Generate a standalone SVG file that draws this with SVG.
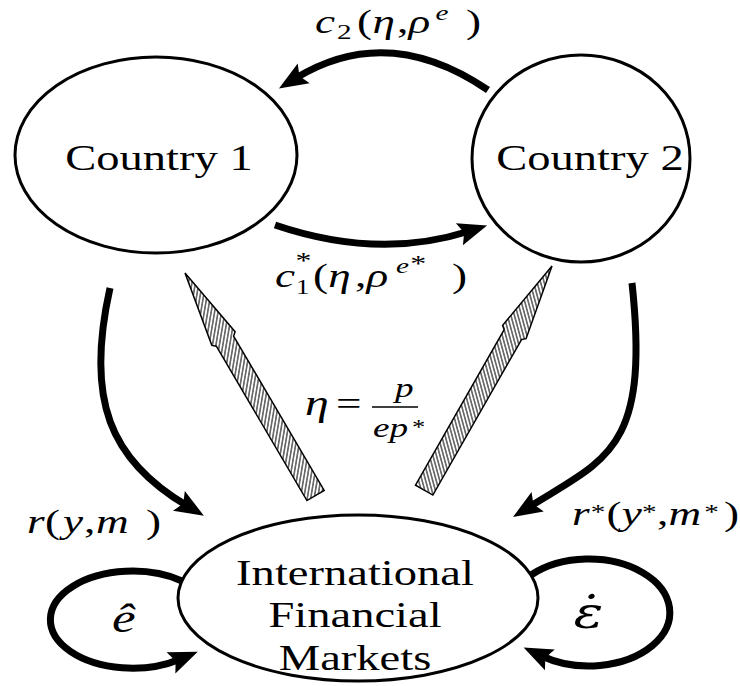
<svg xmlns="http://www.w3.org/2000/svg" width="740" height="686" viewBox="0 0 740 686">
<style>
.node{fill:#fff;stroke:#000;stroke-width:3}
.arrow{fill:none;stroke:#000;stroke-width:7;marker-end:url(#head)}
.hatch{stroke:#000;stroke-width:1.5;stroke-linejoin:miter}
text{font-family:'Liberation Serif','Times New Roman',serif;fill:#000}
.lbl{font-size:35px}
.m{font-size:34px}
.i{font-style:italic}
.s{font-size:22px}
.st{font-size:22px}
</style>
<defs>
<marker id="head" markerUnits="userSpaceOnUse" viewBox="-10 -13 32 26" markerWidth="32" markerHeight="26" refX="0" refY="0" orient="auto" overflow="visible">
<path d="M20,0 L-9,-11.5 L-4,0 L-9,11.5 Z" fill="#000"/>
</marker>
<pattern id="hatchL" patternUnits="userSpaceOnUse" width="8" height="3.4" patternTransform="rotate(40)">
<rect width="8" height="3.4" fill="#fff"/><line x1="0" y1="1.7" x2="8" y2="1.7" stroke="#000" stroke-width="1"/>
</pattern>
<pattern id="hatchR" patternUnits="userSpaceOnUse" width="8" height="3.4" patternTransform="rotate(-45)">
<rect width="8" height="3.4" fill="#fff"/><line x1="0" y1="1.7" x2="8" y2="1.7" stroke="#000" stroke-width="1"/>
</pattern>
<polygon id="hatchArrow" points="0,0 76,13.5 79,10 258,10 258,-10 79,-10 76,-13.5"/>
</defs>
<rect width="740" height="686" fill="#fff"/>

<g id="country1">
<ellipse class="node" cx="156" cy="155" rx="141" ry="98"/>
<text class="lbl" transform="translate(159,170) scale(1.33,1)" text-anchor="middle">Country 1</text>
</g>
<g id="country2">
<ellipse class="node" cx="581" cy="158.5" rx="109" ry="103.5"/>
<text class="lbl" transform="translate(590,170) scale(1.33,1)" text-anchor="middle">Country 2</text>
</g>
<g id="ifm">
<ellipse class="node" cx="358" cy="598" rx="180" ry="83"/>
<text class="lbl" transform="translate(355,585) scale(1.33,1)" text-anchor="middle">International</text>
<text class="lbl" transform="translate(355,627) scale(1.33,1)" text-anchor="middle">Financial</text>
<text class="lbl" transform="translate(355,670) scale(1.33,1)" text-anchor="middle">Markets</text>
</g>

<g id="connectors">
<path class="arrow" d="M488,90 Q388,22 296,78"/>
<path class="arrow" d="M275,225 Q378,260 468,231.5"/>
<path class="arrow" d="M110,288 C85,400 110,460 186.7,505.5"/>
<path class="arrow" d="M632,283 C650,450 606.5,458.7 530,506.4"/>
<path class="arrow" d="M182,581 A82,48.5 0 1 0 179.3,659.4"/>
<path class="arrow" d="M531,575 A81,53.5 0 1 1 541.7,656"/>
<use href="#hatchArrow" class="hatch" fill="url(#hatchL)" transform="translate(185,273) rotate(59.6)"/>
<use href="#hatchArrow" class="hatch" fill="url(#hatchR)" transform="translate(552,266) rotate(119.7)"/>
</g>

<g id="labels">
<text class="m" transform="scale(1.33,1)"><tspan class="i" x="236.8" y="33">c</tspan><tspan class="s" x="253.4" y="39">2</tspan><tspan x="268.4" y="33">(</tspan><tspan class="i" x="280" y="33">η</tspan><tspan x="298.5" y="33">,</tspan><tspan class="i" x="307.2" y="33">ρ</tspan><tspan class="i s" x="327.5" y="20">e</tspan><tspan x="350.4" y="33">)</tspan></text>
<text class="m" transform="scale(1.33,1)"><tspan class="i" x="206.8" y="287">c</tspan><tspan style="font-size:24px" x="222.2" y="268">*</tspan><tspan style="font-size:20px" x="222.6" y="294">1</tspan><tspan x="235.3" y="287">(</tspan><tspan class="i" x="246.8" y="287">η</tspan><tspan x="266.9" y="287">,</tspan><tspan class="i" x="275.6" y="287">ρ</tspan><tspan class="i s" x="297.7" y="273">e</tspan><tspan style="font-size:24px" x="308.5" y="271">*</tspan><tspan x="339.8" y="287">)</tspan></text>
<text class="m" transform="scale(1.33,1)"><tspan class="i" style="font-size:36px" x="229.3" y="415">η</tspan><tspan x="252.6" y="415">=</tspan><tspan class="i" style="font-size:28px" x="297" y="397">p</tspan><tspan class="i" style="font-size:28px" x="280.5" y="437">ep</tspan><tspan style="font-size:20px" x="309.8" y="434">*</tspan></text>
<line x1="372" y1="407" x2="418" y2="407" stroke="#000" stroke-width="1.6"/>
<text class="m" transform="scale(1.33,1)"><tspan class="i" x="20.3" y="533">r</tspan><tspan x="33.8" y="533">(</tspan><tspan class="i" x="47.4" y="533">y</tspan><tspan x="63.2" y="533">,</tspan><tspan class="i" x="72.2" y="533">m</tspan><tspan x="109.8" y="533">)</tspan></text>
<text class="m" transform="scale(1.33,1)"><tspan class="i" x="430.1" y="525">r</tspan><tspan class="st" x="444.2" y="519">*</tspan><tspan x="456" y="525">(</tspan><tspan class="i" x="467.5" y="525">y</tspan><tspan class="st" x="482.8" y="519">*</tspan><tspan x="494" y="525">,</tspan><tspan class="i" x="502.6" y="525">m</tspan><tspan class="st" x="529.6" y="519">*</tspan><tspan x="544.4" y="525">)</tspan></text>
<text class="i" style="font-size:40px" transform="scale(1.33,1)" x="84.2" y="632">ê</text>
<text class="i" style="font-size:44px;font-family:'DejaVu Serif',serif" transform="scale(1.25,1)" x="459" y="628">ε̇</text>
</g>
</svg>
